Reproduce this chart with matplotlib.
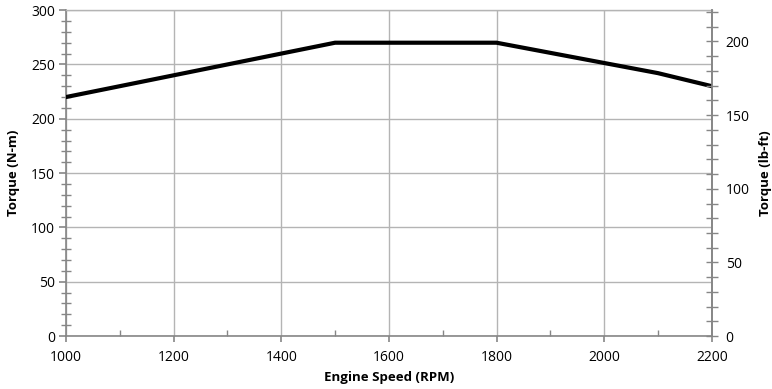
import matplotlib
matplotlib.use("Agg")
import matplotlib.pyplot as plt
from matplotlib.ticker import MultipleLocator

rpm = [1000, 1500, 1800, 2100, 2200]
torque_nm = [220, 270, 270, 242, 230]
NM_TO_LBFT = 1 / 1.35582

plt.rcParams['font.family'] = ['Open Sans', 'DejaVu Sans']

fig = plt.figure(figsize=(7.72, 3.89), dpi=100)
ax = fig.add_axes([0.0855, 0.136, 0.8365, 0.838])
ax.plot(rpm, torque_nm, color='black', lw=3, solid_joinstyle='miter', zorder=3)
ax.set_xlim(1000, 2200)
ax.set_ylim(0, 300)
ax.xaxis.set_major_locator(MultipleLocator(200))
ax.xaxis.set_minor_locator(MultipleLocator(100))
ax.yaxis.set_major_locator(MultipleLocator(50))
ax.yaxis.set_minor_locator(MultipleLocator(10))
ax.grid(True, which='major', color='#b4b4b4', lw=1)
ax.set_axisbelow(True)
spine_c = '#868686'
for s in ax.spines.values():
    s.set_color(spine_c)
    s.set_linewidth(1.2)
ax.spines['top'].set_color('#b4b4b4')
ax.spines['top'].set_linewidth(1)
ax.tick_params(axis='both', which='major', labelsize=10, color=spine_c, width=1.2)
ax.tick_params(axis='y', which='major', direction='out', length=5, pad=3)
ax.tick_params(axis='y', which='minor', direction='inout', length=7, color=spine_c, width=1)
ax.tick_params(axis='x', which='major', direction='out', length=4, pad=6)
ax.tick_params(axis='x', which='minor', direction='in', length=4, color=spine_c, width=1)
ax.set_xlabel('Engine Speed (RPM)', fontsize=9.5, fontweight='bold', labelpad=4)
ax.set_ylabel('Torque (N-m)', fontsize=9.5, fontweight='bold')
ax.yaxis.set_label_coords(-0.072, 0.5)

ax2 = ax.twinx()
ax2.set_ylim(0, 300 * NM_TO_LBFT)
ax2.yaxis.set_major_locator(MultipleLocator(50))
ax2.yaxis.set_minor_locator(MultipleLocator(10))
for s in ax2.spines.values():
    s.set_visible(False)
ax2.spines['right'].set_visible(True)
ax2.spines['right'].set_color(spine_c)
ax2.spines['right'].set_linewidth(1.2)
ax2.tick_params(axis='y', which='both', direction='inout', length=8, color=spine_c, labelsize=10, width=1, pad=6)
ax2.set_ylabel('Torque (lb-ft)', fontsize=9.5, fontweight='bold')
ax2.yaxis.set_label_coords(1.073, 0.5)

fig.savefig('out.png', dpi=100)
